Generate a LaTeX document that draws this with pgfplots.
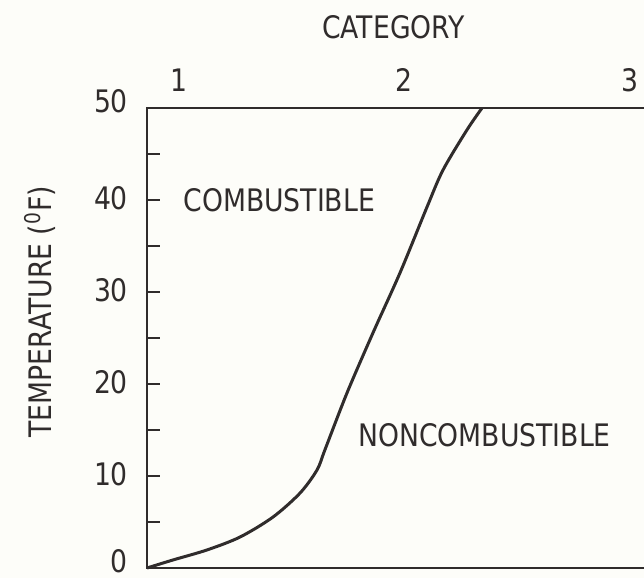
\documentclass[border=0pt]{standalone}
\usepackage{fontspec}
\setmainfont{DejaVu Sans}[FakeStretch=0.86]
\usepackage{pgfplots}
\pgfplotsset{compat=1.18}
\definecolor{ink}{RGB}{48,44,44}
\definecolor{paper}{RGB}{253,253,249}
\begin{document}
\begin{tikzpicture}
\fill[paper] (-73.5pt,-5pt) rectangle (248.5pt,284pt);
\useasboundingbox (-73.5pt,-5pt) rectangle (248.5pt,284pt);
\begin{axis}[
  at={(0,0)}, anchor=south west,
  scale only axis,
  width=251.5pt, height=230pt,
  xmin=0.858, xmax=3.089,
  ymin=0, ymax=50,
  font=\fontsize{15.5}{18}\selectfont,
  /pgf/number format/assume math mode=true,
  axis line style={ink, line width=1.3pt},
  xtick={1,2,3},
  xticklabel pos=upper,
  xtick style={draw=none},
  xticklabel style={ink, yshift=4.5pt},
  ytick={10,20,30,40},
  extra y ticks={0,50},
  extra y tick style={yticklabel style={yshift=2.5pt}},
  minor ytick={5,15,25,35,45},
  ytick pos=left,
  tick align=inside,
  major tick length=6.5pt,
  minor tick length=6.5pt,
  ytick style={ink, line width=1.1pt},
  minor y tick style={ink, line width=1.1pt},
  yticklabel style={ink, xshift=-6pt, yshift=1pt},
  ylabel={TEMPERATURE (\textsuperscript{0}F)},
  ylabel style={ink, at={(axis description cs:-0.213,0.557)}, anchor=center, rotate=0},
  clip=false,
]
\addplot[ink, line width=1.5pt, smooth, tension=0.5] coordinates {
(0.858,0) (0.973,0.87) (1.124,1.96) (1.271,3.37) (1.417,5.54) (1.537,8.15)
(1.612,10.65) (1.647,12.83) (1.745,19.02) (1.860,25.54) (1.980,32.07)
(2.100,39.24) (2.171,43.26) (2.277,47.61) (2.344,50)
};
\node[ink, anchor=west, inner sep=0pt] at (axis cs:1.018,40) {COMBUSTIBLE};
\node[ink, anchor=west, inner sep=0pt] at (axis cs:1.794,14.46) {NONCOMBUSTIBLE};
\node[ink] at (axis description cs:0.49,1.176) {CATEGORY};
\end{axis}
\end{tikzpicture}
\end{document}
